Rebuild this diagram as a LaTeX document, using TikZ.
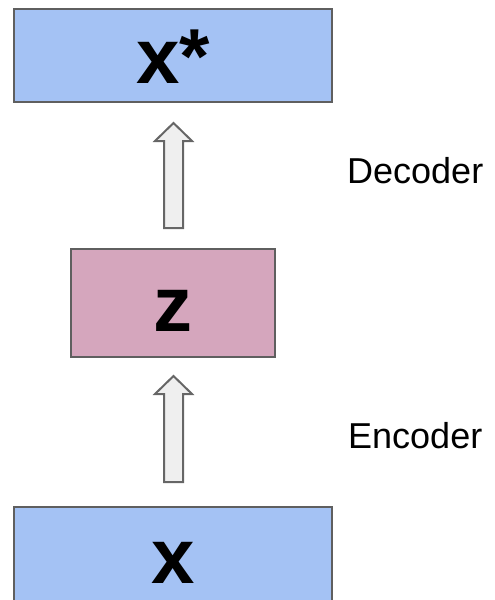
\documentclass[tikz,border=0pt]{standalone}
\usepackage{fontspec}
\setmainfont{Liberation Sans}
\usetikzlibrary{calc}
\definecolor{boxblue}{HTML}{A4C2F4}
\definecolor{boxpink}{HTML}{D5A6BD}
\definecolor{edgegray}{HTML}{5F5F5F}
\definecolor{arrowfill}{HTML}{EFEFEF}
\definecolor{arrowedge}{HTML}{666666}
\tikzset{
  vbox/.style={draw=edgegray, line width=2pt, inner sep=0pt, text height=56pt, text depth=0pt,
    font=\bfseries\fontsize{78}{80}\selectfont},
  blockarr/.style={draw=arrowedge, fill=arrowfill, line width=2pt, line join=miter},
  sidelabel/.style={inner sep=0pt, anchor=base west, font=\fontsize{36}{40}\selectfont}
}
\begin{document}
\begin{tikzpicture}[x=1pt,y=1pt]
\useasboundingbox (0,0) rectangle (495,-600);
\clip (0,0) rectangle (495,-600);
\node[vbox, fill=boxblue, minimum width=318pt, minimum height=93pt] (xs) at (173,-55.5) {x*};
\node[vbox, fill=boxpink, minimum width=204pt, minimum height=108pt] (z) at (173,-303) {z};
\node[vbox, fill=boxblue, minimum width=318pt, minimum height=96pt] (xin) at (173,-555) {x};
% encoder arrow
\coordinate (eb) at ($(xin.north)+(0.5,24)$);
\coordinate (et) at ($(z.south)+(0.5,-18)$);
\draw[blockarr] ($(eb)+(-9.5,0)$) -- ($(et)+(-9.5,-18)$) -- ($(et)+(-18.5,-18)$) -- (et)
  -- ($(et)+(18.5,-18)$) -- ($(et)+(9.5,-18)$) -- ($(eb)+(9.5,0)$) -- cycle;
% decoder arrow
\coordinate (db) at ($(z.north)+(0.5,20)$);
\coordinate (dt) at ($(xs.south)+(0.5,-20)$);
\draw[blockarr] ($(db)+(-9.5,0)$) -- ($(dt)+(-9.5,-18)$) -- ($(dt)+(-18.5,-18)$) -- (dt)
  -- ($(dt)+(18.5,-18)$) -- ($(dt)+(9.5,-18)$) -- ($(db)+(9.5,0)$) -- cycle;
\node[sidelabel] (dec) at (347,-183) {Decoder};
\node[sidelabel] (enc) at (348,-448) {Encoder};
\end{tikzpicture}
\end{document}
